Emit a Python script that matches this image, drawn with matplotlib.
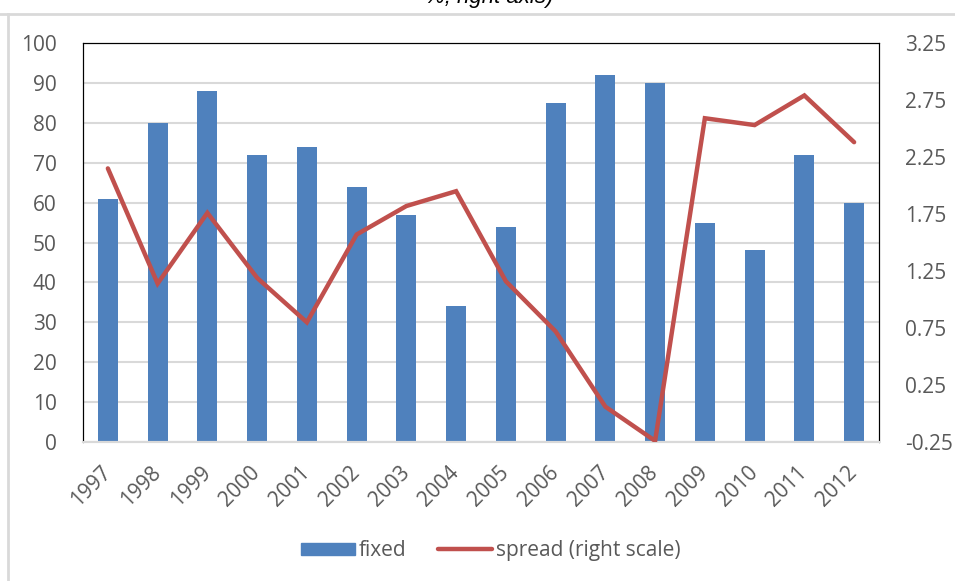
import matplotlib.pyplot as plt
from matplotlib.lines import Line2D
from matplotlib.patches import Patch

years = ['1997', '1998', '1999', '2000', '2001', '2002', '2003', '2004',
         '2005', '2006', '2007', '2008', '2009', '2010', '2011', '2012']
fixed = [61, 80, 88, 72, 74, 64, 57, 34, 54, 85, 92, 90, 55, 48, 72, 60]
spread = [2.15, 1.14, 1.76, 1.19, 0.80, 1.57, 1.82, 1.95,
          1.16, 0.72, 0.06, -0.24, 2.59, 2.53, 2.79, 2.38]
left_ticks = [0, 10, 20, 30, 40, 50, 60, 70, 80, 90, 100]
right_ticks = [-0.25, 0.25, 0.75, 1.25, 1.75, 2.25, 2.75, 3.25]

blue = '#4F81BD'
red = '#C0504D'
grey_text = '#595959'
grid_col = '#D9D9D9'
fs = 15

plt.rcParams['font.family'] = ['Open Sans', 'DejaVu Sans']

fig = plt.figure(figsize=(9.55, 5.81), dpi=100)
ax = fig.add_axes([0.0869, 0.2392, 0.8335, 0.6868])
x = list(range(len(years)))

ax.bar(x, fixed, width=0.4, color=blue, zorder=2)
ax.set_ylim(0, 100)
ax.set_xlim(-0.5, len(years) - 0.5)
ax.set_yticks(left_ticks)
ax.yaxis.grid(True, color=grid_col, lw=1.5, zorder=0)
ax.set_axisbelow(True)
ax.set_xticks(x)
ax.set_xticklabels(years, rotation=45, ha='right', va='center',
                   rotation_mode='anchor')
ax.tick_params(axis='x', length=0, pad=20, labelsize=fs, labelcolor=grey_text)
ax.tick_params(axis='y', length=0, pad=19, labelsize=fs, labelcolor=grey_text)

ax2 = ax.twinx()
ax2.plot(x, spread, color=red, lw=3.2, solid_capstyle='round',
         solid_joinstyle='miter', zorder=3)
ax2.set_ylim(-0.25, 3.25)
ax2.set_yticks(right_ticks)
ax2.set_yticklabels(['%.2f' % t for t in right_ticks])
ax2.tick_params(axis='y', length=0, pad=19, labelsize=fs, labelcolor=grey_text)

for a in (ax, ax2):
    a.spines['left'].set_color('black')
    a.spines['top'].set_color('black')
    a.spines['right'].set_color('black')
    a.spines['bottom'].set_color(grid_col)
    a.spines['bottom'].set_linewidth(1.5)

handles = [Patch(color=blue, label='fixed'),
           Line2D([0], [0], color=red, lw=3.2, solid_capstyle='round',
                  label='spread (right scale)')]
fig.legend(handles=handles, loc='center', bbox_to_anchor=(0.514, 0.052),
           ncol=2, frameon=False, fontsize=fs, handlelength=2.6,
           handleheight=0.55, handletextpad=0.2, columnspacing=1.5,
           labelcolor=grey_text)

# outer chart frame and the cut-off heading above it
fig.add_artist(Line2D([8 / 955, 8 / 955], [0, 1 - 14 / 581],
                      transform=fig.transFigure, color=grid_col, lw=2))
fig.add_artist(Line2D([0, 1], [1 - 14 / 581, 1 - 14 / 581],
                      transform=fig.transFigure, color=grid_col, lw=2))
fig.text(0.512, 1 - 3 / 581, '%, right axis)', ha='center', va='baseline',
         fontsize=16, style='italic', color='black',
         family=['Liberation Sans', 'DejaVu Sans'])

fig.savefig('out.png', dpi=100)
